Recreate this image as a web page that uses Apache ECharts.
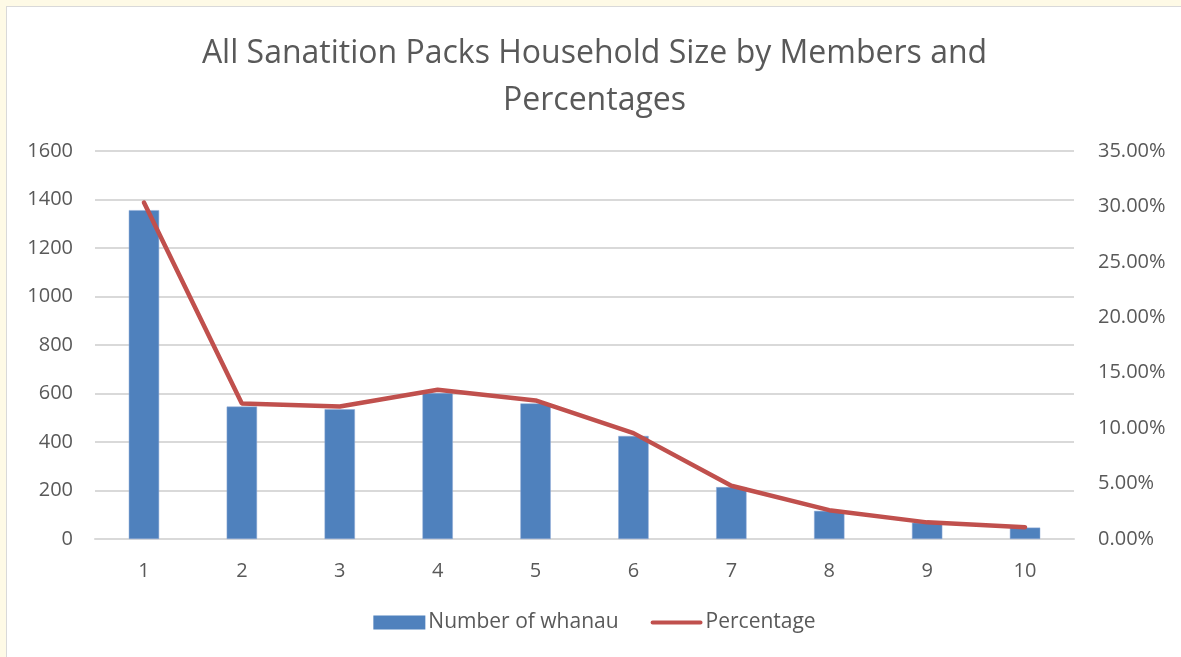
<!DOCTYPE html>
<html>
<head>
<meta charset="utf-8">
<script src="https://cdn.jsdelivr.net/npm/echarts@6/dist/echarts.min.js"></script>
<style>
  html, body { margin: 0; padding: 0; background: #fefae6; }
  #chart {
    position: absolute;
    left: 6px;
    top: 6px;
    width: 1175px;
    height: 651px;
    background: #ffffff;
    border-left: 1px solid #d9d9d9;
    border-top: 1px solid #d9d9d9;
  }
</style>
</head>
<body>
<div id="chart"></div>
<script>
// household size (members)
var categories = ['1', '2', '3', '4', '5', '6', '7', '8', '9', '10'];
// number of whanau per household size
var whanauCounts = [1356, 546, 535, 602, 559, 425, 214, 116, 67, 47];
// percentage of all packs
var percentages = [30.35, 12.22, 11.96, 13.47, 12.5, 9.55, 4.8, 2.6, 1.5, 1.07];

var textColor = '#595959';
var font = 'Open Sans';

var myChart = echarts.init(document.getElementById('chart'));

var option = {
  animation: false,
  title: {
    text: 'All Sanatition Packs Household Size by Members and\nPercentages',
    left: 'center',
    top: 18,
    textStyle: {
      fontFamily: font,
      fontSize: 32,
      fontWeight: 'normal',
      color: textColor,
      lineHeight: 47
    }
  },
  legend: {
    bottom: 20,
    left: 'center',
    itemWidth: 52,
    itemHeight: 14,
    itemGap: 32,
    itemStyle: { borderWidth: 0 },
    textStyle: { fontFamily: font, fontSize: 21, color: textColor, padding: [0, 0, 0, -2] },
    data: [
      { name: 'Number of whanau', icon: 'rect' },
      { name: 'Percentage', icon: 'path://M2 0 H54 A2.2 2.2 0 0 1 54 4.5 H2 A2.2 2.2 0 0 1 2 0 Z' }
    ]
  },
  grid: {
    left: 88,
    right: 108,
    top: 144,
    bottom: 119,
    containLabel: false
  },
  xAxis: {
    type: 'category',
    data: categories,
    axisLine: { lineStyle: { color: '#d9d9d9', width: 2 } },
    axisTick: { show: false },
    axisLabel: { fontFamily: font, fontSize: 20, color: textColor, margin: 22 }
  },
  yAxis: [
    {
      type: 'value',
      min: 0,
      max: 1600,
      interval: 200,
      axisLine: { show: false },
      axisTick: { show: false },
      splitLine: { lineStyle: { color: '#d9d9d9', width: 2 } },
      axisLabel: {
        fontFamily: font,
        fontSize: 20,
        color: textColor,
        margin: 22,
        formatter: function (v) { return String(v); }
      }
    },
    {
      type: 'value',
      min: 0,
      max: 35,
      interval: 5,
      axisLine: { show: false },
      axisTick: { show: false },
      splitLine: { show: false },
      axisLabel: {
        fontFamily: font,
        fontSize: 20,
        color: textColor,
        margin: 24,
        formatter: function (v) { return v.toFixed(2) + '%'; }
      }
    }
  ],
  series: [
    {
      name: 'Number of whanau',
      type: 'bar',
      data: whanauCounts,
      barWidth: '31%',
      itemStyle: { color: '#4f81bd', borderColor: '#8eaad6', borderWidth: 0.5 }
    },
    {
      name: 'Percentage',
      type: 'line',
      yAxisIndex: 1,
      data: percentages,
      symbol: 'none',
      lineStyle: { color: '#c0504d', width: 4.5, cap: 'round' },
      itemStyle: { color: '#c0504d' }
    }
  ]
};

option && myChart.setOption(option);
</script>
</body>
</html>
